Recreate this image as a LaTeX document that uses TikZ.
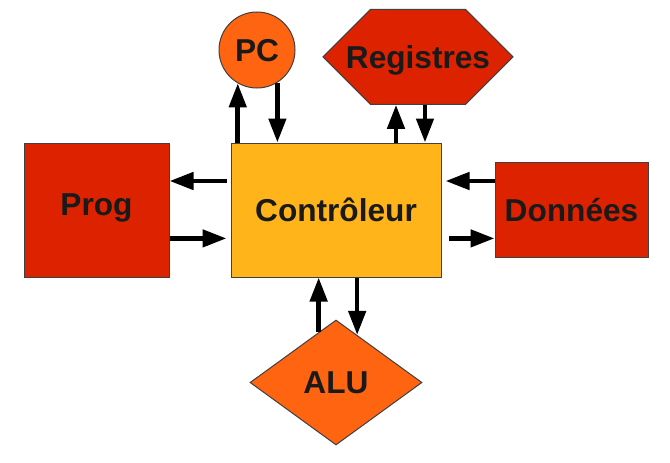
\documentclass[tikz,border=0pt]{standalone}
\usepackage{fontspec}
\setmainfont{Liberation Sans}
\usepackage{tikz}
\usetikzlibrary{positioning}
\usetikzlibrary{calc,arrows.meta}
\usetikzlibrary{shapes.geometric,shapes.symbols}
\definecolor{ctrlyellow}{HTML}{FFB41A}
\definecolor{blockred}{HTML}{DD2200}
\definecolor{blockorange}{HTML}{FF6410}
\definecolor{edgegray}{HTML}{404040}
\definecolor{textblack}{HTML}{1A1A1A}
\newcommand{\blocktext}{\fontsize{45}{54}\selectfont\bfseries}

\begin{document}
\begin{tikzpicture}[
	block/.style = {draw=edgegray, line width=0.05cm, text=textblack, font=\blocktext,
		inner sep=0pt, text height=1.13cm, text depth=0pt},
	flow/.style  = {line width=0.23cm, -{Triangle[length=1.20cm, width=0.85cm]}},
]

	% ---------------------
	% Frame
	\useasboundingbox (0.00cm,0.00cm) rectangle (33.50cm,-23.15cm);

	% ---------------------
	% Blocks
	\node[block, fill=ctrlyellow, minimum width=10.50cm, minimum height=6.70cm] (Controleur) at (16.80cm,-10.50cm) {Contrôleur};

	\node[block, fill=blockred, minimum width=7.25cm, minimum height=6.70cm, text depth=0.60cm, left=3.05cm of Controleur] (Prog) {Prog};
	\node[block, fill=blockred, minimum width=7.65cm, minimum height=4.75cm, right=2.65cm of Controleur] (Donnees) {Données};

	\node[block, fill=blockorange, circle, minimum size=3.80cm] (PC) at (12.85cm,-2.50cm) {PC};
	\node[block, fill=blockred, signal, signal to=east and west, signal pointer angle=90,
		minimum height=4.75cm] (Registres) at (20.90cm,-2.84cm) {\makebox[4.75cm]{Registres}};

	\node[block, fill=blockorange, diamond, aspect=1.38, minimum width=8.60cm, minimum height=6.25cm, below=2.10cm of Controleur] (ALU) {ALU};

	% ------------------------------------------------
	% Prog & Donnees
	\path (Controleur.west) +(0.00cm,+1.45cm) coordinate (ProgOut);
	\path (Controleur.west) +(0.00cm,-1.42cm) coordinate (ProgIn);
	\draw[flow, shorten <=0.20cm] (ProgOut) -- (ProgOut -| Prog.east);
	\draw[flow, shorten >=0.20cm] (ProgIn -| Prog.east) -- (ProgIn);

	\path (Controleur.east) +(0.00cm,+1.45cm) coordinate (DonneesIn);
	\path (Controleur.east) +(0.00cm,-1.42cm) coordinate (DonneesOut);
	\draw[flow, shorten >=0.20cm] (DonneesIn -| Donnees.west) -- (DonneesIn);
	\draw[flow, shorten <=0.35cm] (DonneesOut) -- (DonneesOut -| Donnees.west);

	% ------------------------------------------------
	% PC & Registres
	\draw[flow] (PC.240 |- Controleur.north) -- (PC.240);
	\draw[flow] (PC.302) -- (PC.302 |- Controleur.north);

	\path (Registres.south) +(-1.10cm,0.00cm) coordinate (RegIn);
	\path (Registres.south) +(+0.35cm,0.00cm) coordinate (RegOut);
	\draw[flow] (RegIn |- Controleur.north) -- (RegIn);
	\draw[flow] (RegOut) -- (RegOut |- Controleur.north);

	% ------------------------------------------------
	% ALU
	\draw[flow] (ALU.109) -- (ALU.109 |- Controleur.south);
	\draw[flow] (ALU.66 |- Controleur.south) -- (ALU.66);

\end{tikzpicture}
\end{document}
